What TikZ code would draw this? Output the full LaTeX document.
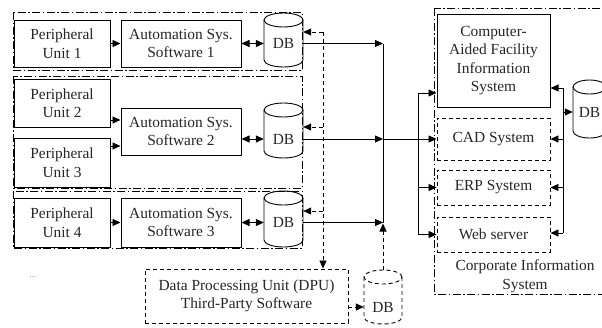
\documentclass[tikz,border=0pt]{standalone}
\usepackage{fontspec}
\setmainfont{Liberation Serif}
\usetikzlibrary{arrows.meta}

% Database cylinder: [style]{name}{x1}{y top}{x2}{y bottom}{label y}
\newcommand\dbcyl[7][]{%
  \pgfmathsetmacro\cylrx{(#5-#3)/2}%
  \pgfmathsetmacro\cylcx{(#3+#5)/2}%
  \def\cylry{7}%
  \draw[cyl,#1] (#3,#4+\cylry) -- (#3,#6-\cylry)
    arc[start angle=180,end angle=360,x radius=\cylrx pt,y radius=\cylry pt]
    -- (#5,#4+\cylry);
  \draw[cyl,#1] (\cylcx,#4+\cylry) ellipse[x radius=\cylrx pt,y radius=\cylry pt];
  \node[dbtext,minimum width=\cylrx*2pt] (#2) at (\cylcx,#7) {DB};
  \coordinate (#2-top) at (\cylcx,#4);
}

\begin{document}
\begin{tikzpicture}[x=1pt,y=-1pt,
  every node/.style={font=\fontsize{15.4}{18.5}\selectfont, text=black!85},
  box/.style={draw, line width=1pt, inner sep=0pt, align=center},
  dbox/.style={box, line width=0.9pt, dash pattern=on 4pt off 3pt},
  grpframe/.style={draw, line width=0.8pt, dash pattern=on 8pt off 2.5pt on 1.5pt off 2.5pt},
  cyl/.style={line width=0.9pt},
  dbtext/.style={inner sep=0pt},
  link/.style={line width=0.8pt},
  dline/.style={link, dash pattern=on 4pt off 3pt},
  arr/.style={link, -{Triangle[length=8pt,width=7pt]}},
  dbl/.style={link, {Triangle[length=8pt,width=7pt]}-{Triangle[length=8pt,width=7pt]}}
]
\useasboundingbox[fill=white] (0,0) rectangle (602,327);

% ---- automation groups ----
\draw[grpframe] (13,12) rectangle (302,70);
\draw[grpframe] (13,76) rectangle (302,188);
\draw[grpframe] (13,191) rectangle (302,248);

\node[box, minimum width=96pt, minimum height=47pt] (p1) at (62,43.5) {Peripheral\\Unit 1};
\node[box, minimum width=120pt, minimum height=47pt] (a1) at (181,43.5) {Automation Sys.\\Software 1};
\dbcyl{db1}{264}{13}{303}{67}{43.5}

\node[box, minimum width=96pt, minimum height=48pt] (p2) at (62,103) {Peripheral\\Unit 2};
\node[box, minimum width=96pt, minimum height=49pt] (p3) at (62,162.5) {Peripheral\\Unit 3};
\node[box, minimum width=120pt, minimum height=47pt] (a2) at (181,131.5) {Automation Sys.\\Software 2};
\dbcyl{db2}{264}{103}{303}{158}{139}

\node[box, minimum width=96pt, minimum height=49pt] (p4) at (62,222.5) {Peripheral\\Unit 4};
\node[box, minimum width=120pt, minimum height=49pt] (a3) at (181,222.5) {Automation Sys.\\Software 3};
\dbcyl{db3}{264}{191}{303}{247}{222.5}

\node[font=\fontsize{9}{10}\selectfont, text=black!45] (more) at (33,277) {...};

\draw[arr] (p1.east) -- (a1.west);
\draw[arr] ([yshift=-17pt]p2.east) -- ([yshift=-17pt]p2.east -| a2.west);
\draw[arr] ([yshift=16.5pt]p3.east) -- ([yshift=16.5pt]p3.east -| a2.west);
\draw[arr] (p4.east) -- (a3.west);
\draw[dbl] (a1.east |- db1) -- (db1.west);
\draw[dbl] (a2.east |- db2) -- (db2.west);
\draw[dbl] (a3.east |- db3) -- (db3.west);

% ---- data processing unit ----
\node[dbox, minimum width=203pt, minimum height=54pt] (dpu) at (246.5,296) {Data Processing Unit (DPU)\\Third-Party Software};
\dbcyl[dash pattern=on 4pt off 3pt]{dpudb}{364}{270}{402}{324}{307}
\draw[arr, dash pattern=on 4pt off 3pt] (dpu.east |- dpudb) -- (dpudb.west);

\coordinate (d1) at (323,32);
\coordinate (d2) at (323,127);
\coordinate (d3) at (323,211);
\draw[arr, dash pattern=on 4pt off 3pt] (d1) -- (dpu.north -| d1);
\draw[arr, dash pattern=on 4pt off 3pt] (d1) -- (d1 -| db1.east);
\draw[arr, dash pattern=on 4pt off 3pt] (d2) -- (d2 -| db2.east);
\draw[arr, dash pattern=on 4pt off 3pt] (d3) -- (d3 -| db3.east);

% ---- data bus towards the corporate systems ----
\coordinate (busx) at (383,0);
\draw[arr] (db1.east) -- (db1.east -| busx);
\draw[link] (db1.east -| busx) -- (db3.east -| busx);
\draw[arr] (db2.east) -- (db2.east -| busx);
\draw[arr] (db3.east) -- (db3.east -| busx);
\draw[arr, dash pattern=on 4pt off 3pt] (dpudb-top) -- ([yshift=-1pt]dpudb-top |- db3.east);

% ---- corporate information system ----
\draw[grpframe] (434,8) rectangle (608,294);
\node[box, minimum width=113pt, minimum height=93pt] (cafis) at (493.5,60.5) {Computer-\\Aided Facility\\Information\\System};
\node[dbox, minimum width=113pt, minimum height=42pt] (cad) at (493.5,139) {CAD System};
\node[dbox, minimum width=113pt, minimum height=35pt] (erp) at (493.5,187.5) {ERP System};
\node[dbox, minimum width=113pt, minimum height=35pt] (web) at (493.5,234.5) {Web server};
\node[align=center, inner sep=0pt] (cis) at (525,276) {Corporate Information\\System};
\dbcyl{rdb}{573}{80}{606}{138}{112}

\draw[arr] (db2.east -| busx) -- (cad.west);
\coordinate (k1) at (418,93);
\draw[link] (k1) -- (web.west -| k1);
\draw[arr] (k1) -- (k1 -| cafis.west);
\draw[arr] (erp.west -| k1) -- (erp.west);
\draw[arr] (web.west -| k1) -- (web.west);

\coordinate (r1) at (563,88);
\coordinate (r4) at (563,233);
\draw[link] (r1) -- (r4);
\draw[arr] (r1) -- (r1 -| cafis.east);
\draw[arr] (cad.east -| r1) -- (cad.east);
\draw[arr] (erp.east -| r1) -- (erp.east);
\draw[arr] (r4) -- (r4 -| web.east);
\draw[arr] (rdb.west -| r1) -- (rdb.west);
\end{tikzpicture}
\end{document}
